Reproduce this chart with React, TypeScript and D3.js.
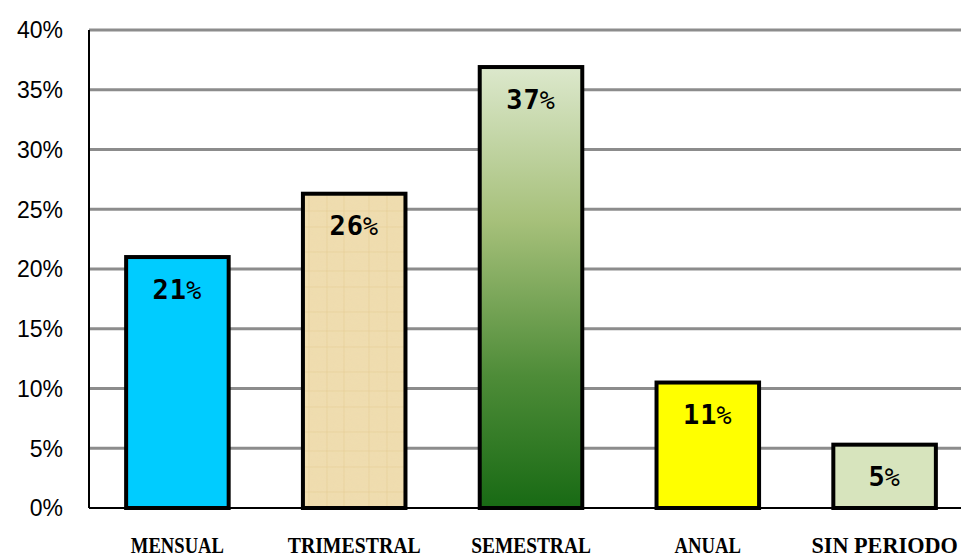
import React from "react";
import * as d3 from "d3";

const categories = ["MENSUAL", "TRIMESTRAL", "SEMESTRAL", "ANUAL", "SIN PERIODO"];
const values = [21.0, 26.3, 36.9, 10.5, 5.3];
const valueLabels = ["21", "26", "37", "11", "5"];
const yTicks = [0, 5, 10, 15, 20, 25, 30, 35, 40];
const fills = ["#00CCFF", "url(#papyrus)", "url(#greenGrad)", "#FFFF00", "#D7E4BD"];

const W = 961;
const H = 556;
const left = 89;
const top = 30;
const bottom = 508;

export default function App() {
  const x = d3.scaleBand<string>().domain(categories).range([left, 973]).paddingInner(0.42).paddingOuter(0.21);
  const y = d3.scaleLinear().domain([0, 40]).range([bottom, top]);
  return (
    <svg width={W} height={H} style={{ position: "absolute", left: 0, top: 0 }}>
      <defs>
        <linearGradient id="greenGrad" x1="0" y1="0" x2="0" y2="1">
          <stop offset="0" stopColor="#DCE8CC" />
          <stop offset="0.35" stopColor="#A6C07A" />
          <stop offset="0.7" stopColor="#4E8C38" />
          <stop offset="1" stopColor="#186A14" />
        </linearGradient>
        <filter id="paperNoise" x="0" y="0" width="100%" height="100%">
          <feTurbulence type="fractalNoise" baseFrequency="0.04 0.12" numOctaves="3" seed="4" result="n" />
          <feColorMatrix
            in="n"
            type="matrix"
            values="0 0 0 0 0.85  0 0 0 0 0.72  0 0 0 0 0.45  0 0 0 0.5 0"
          />
        </filter>
        <pattern id="papyrus" patternUnits="userSpaceOnUse" width="60" height="60">
          <rect width="60" height="60" fill="#EFDCAE" />
          <rect width="60" height="60" filter="url(#paperNoise)" opacity="0.5" />
          <path d="M0 12H60M0 31H60M0 47H60" stroke="#E2C98E" strokeWidth="1" opacity="0.5" />
          <path d="M9 0V60M27 0V60M44 0V60" stroke="#E2C98E" strokeWidth="1" opacity="0.5" />
        </pattern>
      </defs>
      {yTicks.map((t) => (
        <g key={t}>
          {t > 0 && (
            <line x1={left} x2={W} y1={y(t)} y2={y(t)} stroke="#8C8C8C" strokeWidth={3} />
          )}
          <text
            x={63}
            y={y(t)}
            dy="0.36em"
            textAnchor="end"
            fontFamily="Liberation Sans, Arial, sans-serif"
            fontSize={23}
            fill="#000"
          >
            {t}%
          </text>
        </g>
      ))}
      <line x1={left} x2={left} y1={top} y2={bottom} stroke="#000" strokeWidth={2} />
      <line x1={left} x2={W} y1={bottom} y2={bottom} stroke="#000" strokeWidth={2} />
      {categories.map((c, i) => {
        const bx = x(c)!;
        const bw = x.bandwidth();
        const by = y(values[i]);
        return (
          <g key={c}>
            <rect x={bx} y={by} width={bw} height={bottom - by} fill={fills[i]} stroke="#000" strokeWidth={4} />
            <text
              x={bx + bw / 2}
              y={by + 32}
              dy="0.36em"
              textAnchor="middle"
              fontFamily="DejaVu Sans Mono, monospace"
              fontWeight="bold"
              fontSize={27}
              letterSpacing={1}
              fill="#000"
            >
              {valueLabels[i]}
              <tspan fontSize={25} fontWeight="normal" dx={-1}>%</tspan>
            </text>
            <text
              x={bx + bw / 2}
              y={553}
              textAnchor="middle"
              fontFamily="Liberation Serif, Times New Roman, serif"
              fontWeight="bold"
              fontSize={24}
              textLength={c.length * 13.3}
              lengthAdjust="spacingAndGlyphs"
              fill="#000"
            >
              {c}
            </text>
          </g>
        );
      })}
    </svg>
  );
}
